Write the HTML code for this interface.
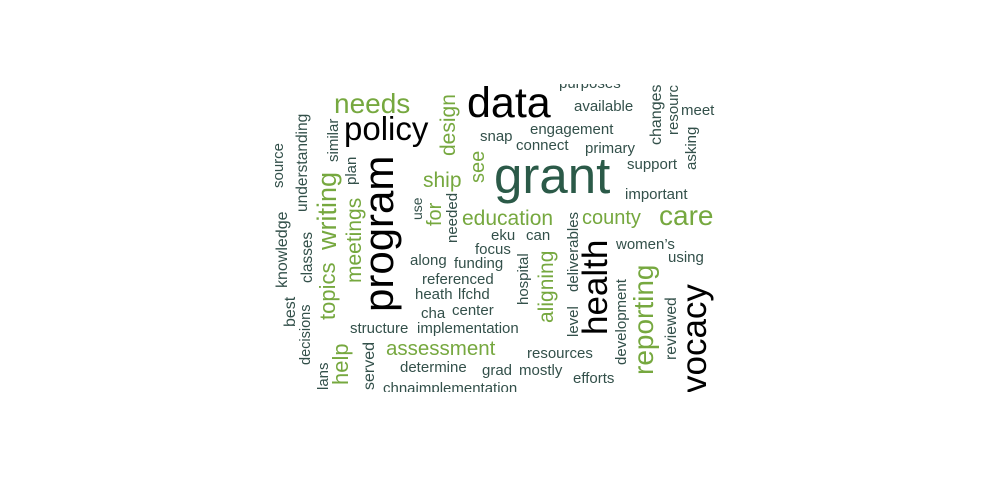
<!DOCTYPE html>
<html><head><meta charset="utf-8"><style>
html,body{margin:0;padding:0;background:#fff;width:990px;height:495px;overflow:hidden}
svg{display:block}
text{font-family:"Liberation Sans",Arial,sans-serif}
.d{fill:#33504a}.g{fill:#76a83f}.k{fill:#000}
</style></head><body>
<svg width="990" height="495" viewBox="0 0 990 495">
<defs><clipPath id="c"><rect x="268" y="84" width="454" height="308"/></clipPath></defs>
<g clip-path="url(#c)">
<text class="k" x="467" y="117" font-size="43">data</text>
<text x="494" y="193" font-size="51" fill="#2b5a48">grant</text>
<text class="k" x="344" y="140" font-size="33">policy</text>
<text class="g" x="334" y="113" font-size="28">needs</text>
<text class="k" font-size="42" transform="translate(393,312) rotate(-90)">program</text>
<text class="g" font-size="21" transform="translate(455,156) rotate(-90)">design</text>
<text class="g" font-size="20" transform="translate(484,183) rotate(-90)">see</text>
<text class="g" x="423" y="187" font-size="21">ship</text>
<text class="g" font-size="20" transform="translate(441,226) rotate(-90)">for</text>
<text class="d" font-size="14" transform="translate(422,220) rotate(-90)">use</text>
<text class="d" font-size="15" transform="translate(457,243) rotate(-90)">needed</text>
<text class="g" x="462" y="225" font-size="21">education</text>
<text class="d" font-size="15" transform="translate(338,162) rotate(-90)">similar</text>
<text class="d" font-size="15" transform="translate(356,185) rotate(-90)">plan</text>
<text class="d" font-size="15.5" transform="translate(307,212) rotate(-90)">understanding</text>
<text class="d" font-size="15" transform="translate(283,188) rotate(-90)">source</text>
<text class="g" font-size="27" transform="translate(336,250) rotate(-90)">writing</text>
<text class="g" font-size="21" transform="translate(361,283) rotate(-90)">meetings</text>
<text class="g" font-size="22" transform="translate(335,320) rotate(-90)">topics</text>
<text class="d" font-size="16" transform="translate(287,288) rotate(-90)">knowledge</text>
<text class="d" font-size="15.3" transform="translate(312,283) rotate(-90)">classes</text>
<text class="d" font-size="16" transform="translate(295,327) rotate(-90)">best</text>
<text class="d" font-size="14.5" transform="translate(310,365) rotate(-90)">decisions</text>
<text class="d" font-size="15" transform="translate(328,390) rotate(-90)">lans</text>
<text class="g" font-size="22" transform="translate(348,385) rotate(-90)">help</text>
<text class="d" font-size="16" transform="translate(374,390) rotate(-90)">served</text>
<text class="d" x="350" y="333" font-size="15">structure</text>
<text class="d" x="417" y="333" font-size="15">implementation</text>
<text class="d" x="410" y="265" font-size="15">along</text>
<text class="d" x="454" y="268" font-size="15">funding</text>
<text class="d" x="475" y="254" font-size="15">focus</text>
<text class="d" x="422" y="284" font-size="15">referenced</text>
<text class="d" x="415" y="299" font-size="15">heath</text>
<text class="d" x="458" y="299" font-size="15">lfchd</text>
<text class="d" x="421" y="318" font-size="15">cha</text>
<text class="d" x="452" y="315" font-size="15">center</text>
<text class="g" x="386" y="355" font-size="20.5">assessment</text>
<text class="d" x="400" y="372" font-size="15">determine</text>
<text class="d" x="383" y="393" font-size="15">chnaimplementation</text>
<text class="d" x="482" y="375" font-size="15">grad</text>
<text class="d" x="519" y="375" font-size="15">mostly</text>
<text class="d" x="527" y="358" font-size="15">resources</text>
<text class="d" x="573" y="383" font-size="15">efforts</text>
<text class="d" x="480" y="141" font-size="15">snap</text>
<text class="d" x="530" y="134" font-size="15">engagement</text>
<text class="d" x="516" y="150" font-size="15">connect</text>
<text class="d" x="585" y="153" font-size="15">primary</text>
<text class="d" x="574" y="111" font-size="15">available</text>
<text class="d" x="559" y="88" font-size="15">purposes</text>
<text class="d" font-size="16" transform="translate(661,145) rotate(-90)">changes</text>
<text class="d" font-size="15" transform="translate(678,135) rotate(-90)">resourc</text>
<text class="d" x="681" y="115" font-size="15">meet</text>
<text class="d" font-size="15" transform="translate(696,170) rotate(-90)">asking</text>
<text class="d" x="627" y="169" font-size="15">support</text>
<text class="d" x="625" y="199" font-size="15">important</text>
<text class="g" x="582" y="224" font-size="20">county</text>
<text class="g" x="659" y="225" font-size="28">care</text>
<text class="d" x="491" y="240" font-size="15">eku</text>
<text class="d" x="526" y="240" font-size="15">can</text>
<text class="d" x="616" y="249" font-size="15">women’s</text>
<text class="d" x="668" y="262" font-size="15">using</text>
<text class="d" font-size="15" transform="translate(528,305) rotate(-90)">hospital</text>
<text class="g" font-size="21" transform="translate(553,323) rotate(-90)">aligning</text>
<text class="d" font-size="15" transform="translate(578,292) rotate(-90)">deliverables</text>
<text class="d" font-size="15" transform="translate(578,337) rotate(-90)">level</text>
<text class="k" font-size="35" transform="translate(607,335) rotate(-90)">health</text>
<text class="d" font-size="15" transform="translate(626,365) rotate(-90)">development</text>
<text class="g" font-size="28" transform="translate(653,375) rotate(-90)">reporting</text>
<text class="d" font-size="15.7" transform="translate(676,360) rotate(-90)">reviewed</text>
<text class="k" font-size="35" transform="translate(706,393) rotate(-90)">vocacy</text>
</g>
</svg>
</body></html>
